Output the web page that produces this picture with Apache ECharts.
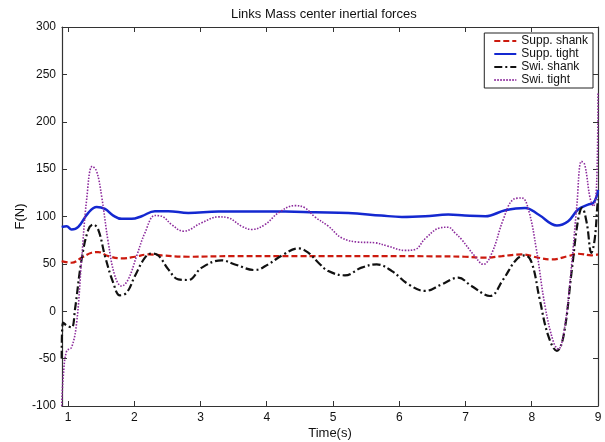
<!DOCTYPE html>
<html><head><meta charset="utf-8">
<script src="https://cdn.jsdelivr.net/npm/echarts@6/dist/echarts.min.js"></script>
<style>html,body{margin:0;padding:0;background:#fff}#c{width:605px;height:442px}</style>
</head><body><div id="c"></div>
<script>
var seriesNames = ['Supp. shank', 'Supp. tight', 'Swi. shank', 'Swi. tight'];
var xTicks = [1, 2, 3, 4, 5, 6, 7, 8, 9];

var suppShankT = [0.905, 1.055, 1.206, 1.357, 1.458, 1.609, 1.81, 2.011, 2.213, 2.414, 2.816, 3.5, 4.5, 5.5, 6.5, 6.99, 7.30, 7.55, 7.85, 8.10, 8.30, 8.55, 8.70, 8.90, 9.0];
var suppShankF = [52.9, 51.2, 56.5, 61.7, 62.4, 58.2, 55.8, 57.5, 60, 58.9, 57.5, 58.2, 58.2, 58.2, 58, 57.5, 56.5, 58.2, 60, 56.5, 54.7, 58.2, 60.7, 59, 60];

var suppTightT = [0.905, 0.98, 1.055, 1.156, 1.307, 1.433, 1.559, 1.684, 1.81, 1.961, 2.112, 2.313, 2.515, 2.816, 3.27, 3.77, 4.28, 4.73, 5.23, 5.73, 6.04, 6.39, 6.74, 6.99, 7.30, 7.60, 7.90, 8.10, 8.38, 8.55, 8.70, 8.85, 8.93, 8.98, 9.0];
var suppTightF = [89, 89.8, 86.3, 89, 103.8, 110.1, 108, 101, 97.5, 97.5, 100.3, 105.6, 105.6, 103.8, 105.2, 105.2, 105.2, 104.5, 103.8, 101, 99.6, 100.3, 102, 101, 100.3, 106.6, 109.1, 102.1, 90.5, 95.1, 107.4, 112.6, 114.4, 121.4, 128];

var swiShankT = [0.905, 0.925, 0.98, 1.055, 1.106, 1.206, 1.307, 1.382, 1.458, 1.559, 1.684, 1.785, 1.886, 2.011, 2.162, 2.263, 2.364, 2.515, 2.665, 2.816, 3.02, 3.32, 3.52, 3.82, 4.02, 4.23, 4.48, 4.63, 4.78, 4.93, 5.18, 5.43, 5.66, 5.89, 6.14, 6.39, 6.64, 6.89, 7.09, 7.37, 7.57, 7.77, 7.90, 8.0, 8.12, 8.25, 8.38, 8.48, 8.60, 8.70, 8.76, 8.83, 8.90, 8.95, 8.99, 9.0];
var swiShankF = [-50, -12, -15, -17, 2, 54.7, 86, 91.5, 86, 58.2, 30, 16.8, 19.6, 37.2, 56.5, 61, 58.9, 44.2, 33.7, 33, 46, 53.7, 49.4, 43.5, 49.4, 58.9, 66.3, 61.7, 51.2, 42.4, 37.9, 46, 49.4, 42.4, 28.4, 21.4, 28.4, 35.4, 26.7, 16.1, 33.7, 54.7, 59, 51.2, 12.6, -26, -41.8, -26, 40.7, 96.8, 109.1, 93.3, 61.7, 75.8, 110.9, 118];

var swiTightT = [0.905, 0.93, 0.98, 1.055, 1.131, 1.206, 1.282, 1.367, 1.433, 1.508, 1.609, 1.709, 1.81, 1.91, 2.036, 2.162, 2.313, 2.414, 2.565, 2.741, 3.018, 3.269, 3.42, 3.62, 3.772, 3.974, 4.175, 4.426, 4.577, 4.728, 4.93, 5.13, 5.38, 5.63, 5.83, 6.09, 6.24, 6.39, 6.615, 6.74, 6.84, 6.94, 7.14, 7.27, 7.40, 7.57, 7.72, 7.85, 7.95, 8.07, 8.20, 8.33, 8.40, 8.50, 8.60, 8.68, 8.75, 8.80, 8.88, 8.93, 8.98, 9.0];
var swiTightF = [-100, -68, -42, -38, -12, 54.7, 117.9, 153, 147.7, 121.4, 72.3, 37.2, 26.6, 33.7, 58.2, 82.8, 101, 100.3, 91.5, 84.5, 93.3, 99.6, 98.6, 89.8, 86.3, 91.5, 103.8, 111.5, 109.1, 99.5, 89.8, 77.5, 73, 72.3, 68.7, 64.2, 65.2, 76.5, 88, 88.7, 82.8, 75.8, 58.2, 49.5, 61.7, 96.8, 117.9, 119.6, 107.4, 65.3, 5.6, -33, -40, -15.5, 47.7, 110.9, 158.2, 154.7, 119.6, 110.9, 135.4, 230];

function pairs(t, f) { return t.map(function (v, i) { return [v, f[i]]; }); }

var chart = echarts.init(document.getElementById('c'), null, {renderer: 'canvas'});
var axisColor = '#333';
var fontFam = '"Liberation Sans", Arial, sans-serif';
chart.setOption({
  animation: false,
  backgroundColor: '#fff',
  title: {
    text: 'Links Mass center inertial forces',
    left: 226, top: 3,
    textStyle: {fontSize: 13, fontWeight: 'normal', color: '#111', fontFamily: fontFam}
  },
  legend: {
    right: 12, top: 33, orient: 'vertical',
    data: seriesNames,
    backgroundColor: '#fff', borderColor: '#222', borderWidth: 1,
    padding: [2, 5, 2, 9], itemGap: 1, itemWidth: 22, itemHeight: 12,
    itemStyle: {opacity: 0},
    textStyle: {fontSize: 12, color: '#111', fontFamily: fontFam}
  },
  grid: {left: 62, right: 7, top: 27, bottom: 36, containLabel: false, outerBoundsMode: 'none'},
  xAxis: [{
    type: 'value', min: 0.91, max: 9,
    name: 'Time(s)', nameLocation: 'middle', nameGap: 21, nameMoveOverlap: false,
    nameTextStyle: {fontSize: 13, color: '#111', fontFamily: fontFam},
    axisLine: {show: true, onZero: false, lineStyle: {color: axisColor, width: 1.2}},
    axisTick: {show: true, inside: true, length: 5, customValues: xTicks, lineStyle: {color: axisColor}},
    axisLabel: {customValues: xTicks, fontSize: 12, color: '#111', fontFamily: fontFam, margin: 6},
    splitLine: {show: false}
  }, {
    type: 'value', min: 0.91, max: 9, position: 'top',
    axisLine: {show: true, onZero: false, lineStyle: {color: axisColor, width: 1.2}},
    axisTick: {show: true, inside: true, length: 5, customValues: xTicks, lineStyle: {color: axisColor}},
    axisLabel: {show: false},
    splitLine: {show: false}
  }],
  yAxis: [{
    type: 'value', min: -100, max: 300, interval: 50,
    name: 'F(N)', nameLocation: 'middle', nameGap: 35, nameMoveOverlap: false,
    nameTextStyle: {fontSize: 13, color: '#111', fontFamily: fontFam},
    axisLine: {show: true, onZero: false, lineStyle: {color: axisColor, width: 1.2}},
    axisTick: {show: true, inside: true, length: 5, lineStyle: {color: axisColor}},
    axisLabel: {fontSize: 12, color: '#111', fontFamily: fontFam, margin: 6},
    splitLine: {show: false}
  }, {
    type: 'value', min: -100, max: 300, interval: 50, position: 'right',
    axisLine: {show: true, onZero: false, lineStyle: {color: axisColor, width: 1.2}},
    axisTick: {show: true, inside: true, length: 5, lineStyle: {color: axisColor}},
    axisLabel: {show: false},
    splitLine: {show: false}
  }],
  series: [{
    name: seriesNames[0], type: 'line', data: pairs(suppShankT, suppShankF),
    smooth: 0.4, symbol: 'none', color: '#cc1a0e',
    lineStyle: {width: 2.2, type: [6, 3], color: '#cc1a0e'}, z: 3
  }, {
    name: seriesNames[1], type: 'line', data: pairs(suppTightT, suppTightF),
    smooth: 0.4, symbol: 'none', color: '#1428d0',
    lineStyle: {width: 2.5, color: '#1428d0'}, z: 2
  }, {
    name: seriesNames[2], type: 'line', data: pairs(swiShankT, swiShankF),
    smooth: 0.4, symbol: 'none', color: '#111',
    lineStyle: {width: 2.2, type: [8, 3, 2, 3], color: '#111'}, z: 4
  }, {
    name: seriesNames[3], type: 'line', data: pairs(swiTightT, swiTightF),
    smooth: 0.4, symbol: 'none', color: '#8c2a9c',
    lineStyle: {width: 1.6, type: [1.5, 1.5], color: '#8c2a9c'}, z: 5
  }]
});
</script></body></html>
